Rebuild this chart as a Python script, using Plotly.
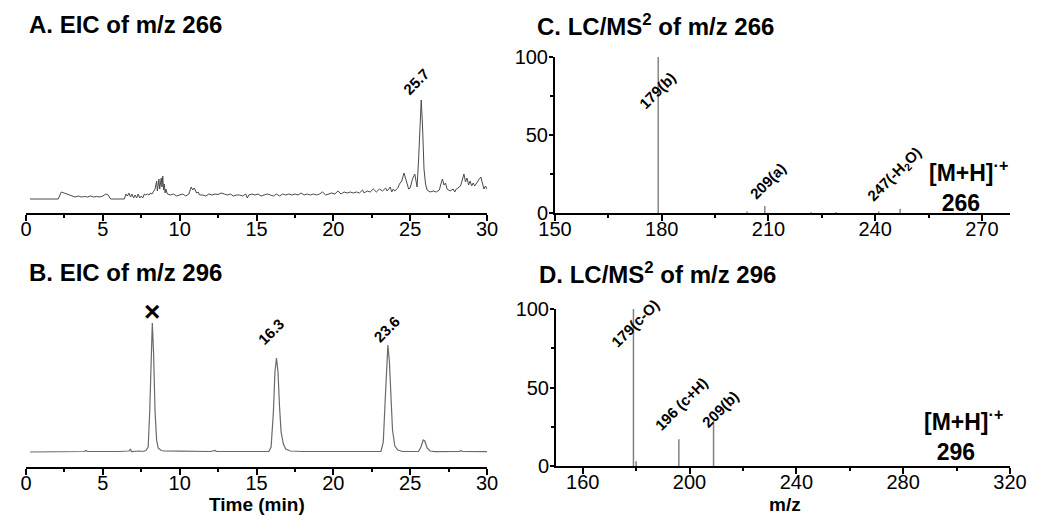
import plotly.graph_objects as go

# ---- data ----
# A. EIC of m/z 266 (time in min, intensity in arbitrary units above baseline)
eic266_time = [
    0.26, 2.1, 2.3, 2.5, 2.8, 3.0, 3.2, 3.4, 3.6, 3.8, 4.0, 4.2, 4.4, 4.6, 4.8, 5.0,
    5.2, 5.35, 5.5, 6.4, 6.5, 6.6, 6.7, 6.8, 6.9, 7.0, 7.1, 7.2, 7.3, 7.4, 7.5, 7.6,
    7.7, 7.8, 7.9, 8.0, 8.1, 8.2, 8.3, 8.4, 8.5, 8.55, 8.65, 8.7, 8.8, 8.85, 8.9, 8.95,
    9.0, 9.05, 9.1, 9.2, 9.4, 9.6, 9.8, 10.0, 10.2, 10.4, 10.6, 10.75, 10.85, 10.95, 11.1, 11.2,
    11.3, 11.5, 11.7, 11.9, 12.1, 12.3, 12.5, 12.7, 12.9, 13.1, 13.3, 13.5, 13.7, 13.9, 14.1, 14.3,
    14.4, 14.5, 14.7, 14.9, 15.1, 15.3, 15.5, 15.7, 15.9, 16.1, 16.3, 16.5, 16.7, 16.9, 17.1, 17.3,
    17.5, 17.7, 17.9, 18.1, 18.3, 18.5, 18.7, 18.9, 19.1, 19.3, 19.5, 19.7, 19.9, 20.1, 20.3, 20.5,
    20.7, 20.9, 21.1, 21.3, 21.5, 21.7, 21.9, 22.0, 22.2, 22.4, 22.6, 22.8, 23.0, 23.2, 23.4, 23.5,
    23.7, 23.8, 23.9, 24.0, 24.2, 24.3, 24.45, 24.6, 24.75, 24.9, 25.0, 25.15, 25.3, 25.45, 25.55, 25.65,
    25.72, 25.8, 25.9, 26.0, 26.1, 26.3, 26.5, 26.7, 26.9, 27.0, 27.1, 27.2, 27.3, 27.4, 27.6, 27.8,
    27.9, 28.0, 28.2, 28.3, 28.4, 28.5, 28.6, 28.7, 28.8, 28.9, 29.0, 29.1, 29.2, 29.35, 29.5, 29.6,
    29.7, 29.8, 29.9, 30.0,
]
eic266_int = [
    0, 0, 7, 6, 4, 3, 2, 3, 2, 2.5, 2, 3, 2, 2.5, 2, 3,
    5, 4, 0, 0, 5, 3, 6, 2, 5, 1, 4, 1, 5, 1, 3, 1,
    5, 4, 5, 4, 6, 5, 7, 10, 18, 8, 20, 10, 21, 12, 23, 9,
    15, 6, 10, 5, 4, 5, 3, 4, 5, 3, 5, 12, 9, 11, 6, 7,
    4, 4, 3, 5, 4, 5, 4.5, 6, 5, 4, 5, 3, 4, 4, 3, 5,
    1, 4, 5, 4, 5, 3, 4, 5, 4, 3, 5, 3, 5, 4, 5, 4,
    5, 4, 6, 4, 5, 4, 5, 4, 5, 7, 4, 5, 6, 5, 8, 5,
    7, 6, 7, 6, 7, 6, 9, 6, 8, 7, 10, 7, 10, 8, 11, 8,
    12, 7, 10, 8, 11, 15, 18, 26, 18, 10, 11, 20, 25, 12, 40, 85,
    99, 75, 30, 15, 9, 7, 8, 7, 9, 15, 20, 14, 16, 10, 8, 10,
    7, 10, 12, 14, 20, 25, 17, 21, 14, 18, 13, 16, 13, 17, 20, 22,
    16, 10, 13, 10,
]

# B. EIC of m/z 296
eic296_time = [
    0.26, 2.0, 2.2, 3.8, 3.9, 4.0, 6.0, 6.7, 6.8, 6.85, 7.4, 7.6, 7.8, 7.95, 8.05, 8.15,
    8.22, 8.3, 8.4, 8.5, 8.6, 8.8, 9.0, 10.0, 12.0, 12.3, 12.4, 15.8, 15.95, 16.1, 16.2, 16.3,
    16.4, 16.5, 16.6, 16.75, 16.9, 17.2, 18.0, 23.1, 23.25, 23.4, 23.5, 23.55, 23.65, 23.75, 23.85, 24.0,
    24.2, 24.5, 25.55, 25.7, 25.85, 25.95, 26.1, 26.3, 26.6, 28.2, 28.3, 28.4, 30.0,
]
eic296_int = [
    0, 0, 0.5, 0.5, 1.5, 0.5, 0.5, 1, 3, 0.5, 1, 0.5, 1.5, 5, 40, 100,
    129, 100, 40, 12, 4, 1.5, 1, 0.8, 0.5, 1.5, 0.5, 0.5, 5, 40, 80, 94,
    80, 45, 20, 8, 3, 1, 0.5, 0.5, 10, 60, 100, 107, 90, 50, 22, 6,
    2, 0.5, 0.5, 5, 12, 11, 4, 1, 0.3, 0.5, 1.5, 0.5, 0.3,
]

# C. LC/MS2 of m/z 266 (m/z, relative abundance %)
ms266_mz = [179, 204, 209, 222, 229, 241, 247, 266]
ms266_int = [100, 1, 4.5, 0.5, 0.6, 1, 2.7, 0.5]

# D. LC/MS2 of m/z 296
ms296_mz = [179, 180, 196, 209]
ms296_int = [100, 3, 17, 29]

W, H = 1050, 530
OFF = 8  # page body margin


def px(x):
    return (x - OFF) / W


def py(y):
    return 1 - (y - OFF) / H


def sticks(mz, inten):
    xs, ys = [], []
    for m, v in zip(mz, inten):
        xs += [m, m, None]
        ys += [0, v, None]
    return xs, ys


fig = go.Figure()

fig.add_trace(go.Scatter(x=eic266_time, y=eic266_int, mode="lines",
                         line=dict(color="#4a4a4a", width=1), xaxis="x", yaxis="y"))
fig.add_trace(go.Scatter(x=eic296_time, y=eic296_int, mode="lines",
                         line=dict(color="#6a6a6a", width=1.2), xaxis="x2", yaxis="y2"))
xs, ys = sticks(ms266_mz, ms266_int)
fig.add_trace(go.Scatter(x=xs, y=ys, mode="lines",
                         line=dict(color="#4a4a4a", width=1), xaxis="x3", yaxis="y3"))
xs, ys = sticks(ms296_mz, ms296_int)
fig.add_trace(go.Scatter(x=xs, y=ys, mode="lines",
                         line=dict(color="#808080", width=1.5), xaxis="x4", yaxis="y4"))

tick_font = dict(family="Arial, Liberation Sans, sans-serif", size=20, color="black")
axcommon = dict(showline=True, linecolor="black", linewidth=2, ticks="outside",
                tickwidth=1.5, tickcolor="black", showgrid=False,
                zeroline=False, tickfont=tick_font, automargin=False)
xcommon = dict(ticklen=6, ticklabelstandoff=-9, **axcommon)
ycommon = dict(ticklen=4, ticklabelstandoff=-3, **axcommon)

fig.update_layout(
    width=W, height=H,
    margin=dict(l=0, r=0, t=0, b=0, autoexpand=False),
    paper_bgcolor="white", plot_bgcolor="white",
    showlegend=False,
    font=dict(family="Arial, Liberation Sans, sans-serif", color="black"),
    xaxis=dict(domain=[px(26), px(487)], range=[0, 30], dtick=5, anchor="y",
               minor=dict(dtick=2.5, ticks="outside", ticklen=3, tickcolor="black"),
               **xcommon),
    yaxis=dict(domain=[py(213), py(57)], range=[-14, 142], visible=False, anchor="x"),
    xaxis2=dict(domain=[px(26), px(487)], range=[0, 30], dtick=5, anchor="y2",
                minor=dict(dtick=2.5, ticks="outside", ticklen=3, tickcolor="black"),
                **xcommon),
    yaxis2=dict(domain=[py(467), py(300)], range=[-15, 152], visible=False, anchor="x2"),
    xaxis3=dict(domain=[px(555), px(1010)], range=[150, 277.9], tick0=150, dtick=30,
                anchor="y3",
                minor=dict(dtick=15, ticks="outside", ticklen=3, tickcolor="black"),
                **xcommon),
    yaxis3=dict(domain=[py(213), py(57)], range=[0, 100], dtick=50, anchor="x3",
                minor=dict(dtick=25, ticks="outside", ticklen=3, tickcolor="black"),
                **ycommon),
    xaxis4=dict(domain=[px(556), px(1010)], range=[150, 320], tick0=160, dtick=40,
                anchor="y4",
                minor=dict(dtick=20, ticks="outside", ticklen=3, tickcolor="black"),
                **xcommon),
    yaxis4=dict(domain=[py(466), py(309)], range=[0, 100], dtick=50, anchor="x4",
                minor=dict(dtick=25, ticks="outside", ticklen=3, tickcolor="black"),
                **ycommon),
)

# panel titles and axis titles (paper positions)
paper_texts = [
    ("<b>A. EIC of m/z 266</b>", 27, 25, "left", 24),
    ("<b>B. EIC of m/z 296</b>", 27, 272, "left", 24),
    ("<b>C. LC/MS<sup>2</sup> of m/z 266</b>", 535, 25, "left", 24),
    ("<b>D. LC/MS<sup>2</sup> of m/z 296</b>", 537, 273, "left", 24),
    ("<b>Time (min)</b>", 257, 504, "center", 19),
    ("<b>m/z</b>", 785, 504, "center", 19),
]
for text, x, y, anchor, size in paper_texts:
    fig.add_annotation(text=text, x=px(x), y=py(y), xref="paper", yref="paper",
                       xanchor=anchor, yanchor="middle", showarrow=False,
                       font=dict(size=size, color="black"))

lab_font = dict(size=15, color="black")
rot_labels = [
    ("x", "y", 25.4, 117, "<b>25.7</b>"),
    ("x2", "y2", 15.94, 121, "<b>16.3</b>"),
    ("x2", "y2", 23.43, 123, "<b>23.6</b>"),
    ("x3", "y3", 178.7, 78.8, "<b>179(b)</b>"),
    ("x3", "y3", 209.6, 20.5, "<b>209(a)</b>"),
    ("x3", "y3", 245.6, 24.4, "<b>247(-H<sub>2</sub>O)</b>"),
    ("x4", "y4", 179.5, 91, "<b>179(c-O)</b>"),
    ("x4", "y4", 197.1, 39.5, "<b>196 (c+H)</b>"),
    ("x4", "y4", 211.3, 36.3, "<b>209(b)</b>"),
]
for xr, yr, x, y, text in rot_labels:
    fig.add_annotation(text=text, x=x, y=y, xref=xr, yref=yr, textangle=-45,
                       showarrow=False, font=lab_font)

fig.add_annotation(text="<b>×</b>", x=8.2, y=141, xref="x2", yref="y2",
                   showarrow=False, font=dict(size=28, color="black"))

ion_font = dict(size=23, color="black")
for xr, yr, x, y, mass in [
    ("x3", "y3", 254.6, 17.6, "266"),
    ("x4", "y4", 287.0, 19.7, "296"),
]:
    fig.add_annotation(text=f"<b>[M+H]<sup>·+</sup><br>\u00a0\u00a0{mass}</b>",
                       x=x, y=y, xref=xr, yref=yr, xanchor="left", align="left",
                       showarrow=False, font=ion_font)

fig.write_html("out.html")
